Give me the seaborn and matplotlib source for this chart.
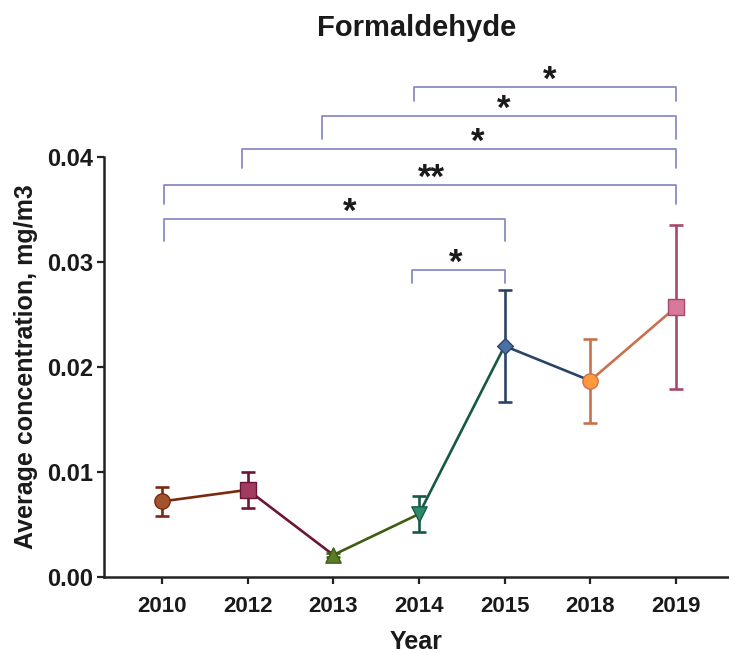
import matplotlib
matplotlib.use("Agg")
import matplotlib.pyplot as plt
import seaborn as sns
import pandas as pd
import numpy as np

# ---- data ----
years = ["2010", "2012", "2013", "2014", "2015", "2018", "2019"]
means = [0.0072, 0.0083, 0.0021, 0.0060, 0.0220, 0.0187, 0.0257]
errs = [0.0014, 0.0017, 0.0002, 0.0017, 0.0053, 0.0040, 0.0078]
fill_colors = ["#a4532f", "#a33a62", "#5b7d2a", "#2c8a6a", "#4a70a8", "#ff9a3c", "#d8789a"]
line_colors = ["#7a2a0e", "#6b1538", "#3e5c12", "#175844", "#2c4468", "#c9714f", "#a8486e"]
markers = ["o", "s", "^", "v", "D", "o", "s"]
marker_sizes = [11, 11, 11, 11, 8, 11, 11]

# significance brackets: (start year, end year, label)
bracket_pairs = [("2014", "2015", "*"), ("2010", "2015", "*"), ("2010", "2019", "**"),
                 ("2012", "2019", "*"), ("2013", "2019", "*"), ("2014", "2019", "*")]
# layout for brackets (top y, leg bottom y, star x, left x offset)
bracket_top = [0.02924, 0.03410, 0.03733, 0.04076, 0.04393, 0.04667]
bracket_leg = [0.02800, 0.03203, 0.03548, 0.03895, 0.04171, 0.04536]
bracket_left_off = [-0.08, 0.02, 0.02, -0.07, -0.13, -0.06]
star_x = [3.43, 2.19, 3.15, 3.68, 3.99, 4.53]

df = pd.DataFrame({"year": years, "mean": means, "err": errs,
                   "pos": np.arange(len(years))})

FONT = "Liberation Sans"
sns.set_theme(style="ticks")
plt.rcParams["font.family"] = [FONT, "DejaVu Sans"]
plt.rcParams["font.weight"] = "bold"

fig = plt.figure(figsize=(7.29, 6.53), dpi=100)
ax = fig.add_axes([104 / 729, 76 / 653, (729 - 104) / 729, 420 / 653])

# connecting segments, each coloured by its starting point
for i in range(len(df) - 1):
    seg = df.iloc[i:i + 2]
    sns.lineplot(data=seg, x="pos", y="mean", color=line_colors[i], lw=1.9,
                 ax=ax, legend=False, sort=False, estimator=None, zorder=2)

# error bars and markers
for i, row in df.iterrows():
    ax.errorbar(row["pos"], row["mean"], yerr=row["err"], fmt="none",
                ecolor=line_colors[i], elinewidth=1.9, capsize=4.8,
                capthick=1.9, zorder=3)
    sns.scatterplot(x=[row["pos"]], y=[row["mean"]], marker=markers[i],
                    s=marker_sizes[i] ** 2, color=fill_colors[i],
                    edgecolor=line_colors[i], linewidth=1.0, ax=ax,
                    legend=False, zorder=4)

# brackets
bcol = "#8a8cc6"
for k, (a, b, lab) in enumerate(bracket_pairs):
    x0 = years.index(a) + bracket_left_off[k]
    x1 = years.index(b)
    top, leg = bracket_top[k], bracket_leg[k]
    ax.plot([x0, x0, x1, x1], [leg, top, top, leg], color=bcol, lw=1.3,
            clip_on=False, zorder=1)
    ax.text(star_x[k], top - 0.0003, lab, ha="center", va="baseline",
            fontsize=25, fontweight="bold", color="#1a1a1a", clip_on=False)

ax.set_xlim(-0.678, 6.62)
ax.set_ylim(0, 0.04)
ax.set_xticks(range(len(years)))
ax.set_xticklabels(years)
ax.set_yticks([0, 0.01, 0.02, 0.03, 0.04])
ax.set_yticklabels(["0.00", "0.01", "0.02", "0.03", "0.04"])

for lbl in ax.get_xticklabels():
    lbl.set_fontweight("bold")
    lbl.set_fontsize(16)
    lbl.set_color("#1a1a1a")
for lbl in ax.get_yticklabels():
    lbl.set_fontweight("bold")
    lbl.set_fontsize(17)
    lbl.set_color("#1a1a1a")

ax.tick_params(axis="both", width=1.6, length=5, color="#222222")
ax.tick_params(axis="y", pad=3)
ax.tick_params(axis="x", pad=9)
for side in ["left", "bottom"]:
    ax.spines[side].set_linewidth(1.8)
    ax.spines[side].set_color("#222222")
sns.despine(ax=ax)

ax.set_xlabel("Year", fontsize=18, fontweight="bold", labelpad=9, color="#1a1a1a")
ax.set_ylabel("Average concentration, mg/m3", fontsize=18, fontweight="bold",
              labelpad=6, color="#1a1a1a")
fig.text((104 + 729) / 2 / 729, 1 - 28 / 653, "Formaldehyde", ha="center",
         va="center", fontsize=21, fontweight="bold", color="#1a1a1a")

fig.savefig("out.png", dpi=100)
